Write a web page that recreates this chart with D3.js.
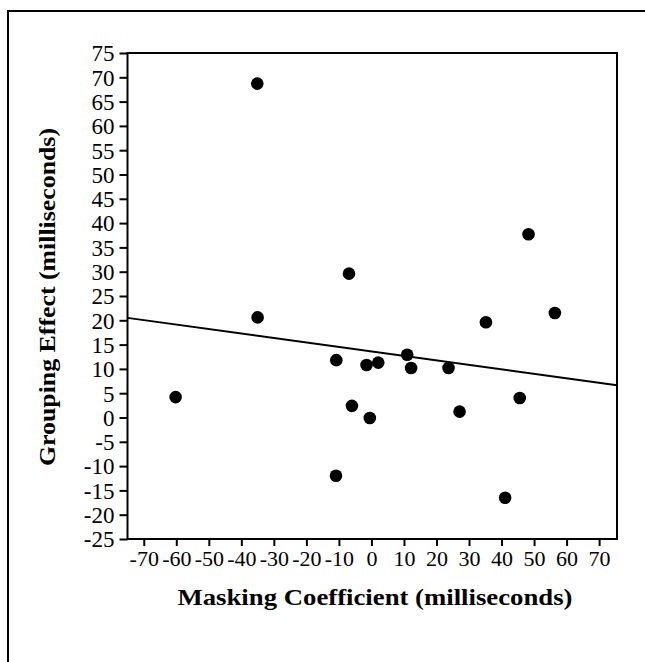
<!DOCTYPE html>
<html><head><meta charset="utf-8">
<script src="https://cdn.jsdelivr.net/npm/d3@7"></script>
<style>body{margin:0;background:#fff;} svg{display:block;}</style>
</head><body>
<svg id="c" width="645" height="662"></svg>
<script>
// Data
const maskingCoefficient = [-60.2, -35.1, -35.0, -6.9, 48.3, 56.4, 35.2, -10.8, -1.5, 2.1, 11.0, 12.2, 23.7, 45.6, -6.0, -0.5, 27.1, -10.9, 41.1];
const groupingEffect     = [4.2, 68.7, 20.6, 29.6, 37.7, 21.5, 19.6, 11.8, 10.8, 11.3, 12.9, 10.2, 10.2, 4.0, 2.4, -0.1, 1.2, -12.0, -16.5];
const xTicks = [-70, -60, -50, -40, -30, -20, -10, 0, 10, 20, 30, 40, 50, 60, 70];
const yTicks = [75, 70, 65, 60, 55, 50, 45, 40, 35, 30, 25, 20, 15, 10, 5, 0, -5, -10, -15, -20, -25];
const fitIntercept = 13.6;
const fitSlope = -0.092;
const xTitle = "Masking Coefficient (milliseconds)";
const yTitle = "Grouping Effect (milliseconds)";

const svg = d3.select("#c");
const x = d3.scaleLinear().domain([-75, 75.5]).range([127.5, 617]);
const y = d3.scaleLinear().domain([-25, 75]).range([539, 53]);

// outer frame (only left and top visible)
svg.append("path").attr("d", "M8,662 V11 H645").attr("fill", "none").attr("stroke", "#000").attr("stroke-width", 2);

// plot frame
svg.append("rect").attr("x", x(-75)).attr("y", y(75)).attr("width", x(75.5) - x(-75)).attr("height", y(-25) - y(75))
  .attr("fill", "none").attr("stroke", "#000").attr("stroke-width", 2);

const serif = "'Liberation Serif', 'Times New Roman', serif";
const fmt = d => String(d);

// y axis
const yAxis = svg.append("g").attr("transform", `translate(${x(-75)},0)`)
  .call(d3.axisLeft(y).tickValues(yTicks).tickSize(8).tickPadding(5).tickFormat(fmt));
yAxis.select(".domain").remove();
yAxis.selectAll("line").attr("stroke-width", 2);
yAxis.selectAll("text").attr("font-family", serif).attr("font-size", 23).attr("fill", "#000").attr("dy", "0.34em");

// x axis
const xAxis = svg.append("g").attr("transform", `translate(0,${y(-25)})`)
  .call(d3.axisBottom(x).tickValues(xTicks).tickSize(7).tickPadding(4).tickFormat(fmt));
xAxis.select(".domain").remove();
xAxis.selectAll("line").attr("stroke-width", 2);
xAxis.selectAll("text").attr("font-family", serif).attr("font-size", 22).attr("fill", "#000");

// fit line
svg.append("line")
  .attr("x1", x(-75)).attr("y1", y(fitIntercept + fitSlope * -75))
  .attr("x2", x(75.5)).attr("y2", y(fitIntercept + fitSlope * 75.5))
  .attr("stroke", "#000").attr("stroke-width", 2);

// points
svg.append("g").selectAll("circle").data(maskingCoefficient).join("circle")
  .attr("cx", d => x(d)).attr("cy", (d, i) => y(groupingEffect[i])).attr("r", 6.3).attr("fill", "#000");

// titles
svg.append("text").attr("x", 375).attr("y", 605).attr("text-anchor", "middle")
  .attr("font-family", serif).attr("font-weight", "bold").attr("font-size", 23)
  .attr("textLength", 395).attr("lengthAdjust", "spacingAndGlyphs")
  .text(xTitle);
svg.append("text").attr("transform", "translate(55,297) rotate(-90)").attr("text-anchor", "middle")
  .attr("font-family", serif).attr("font-weight", "bold").attr("font-size", 23)
  .attr("textLength", 338).attr("lengthAdjust", "spacingAndGlyphs")
  .text(yTitle);
</script>
</body></html>
